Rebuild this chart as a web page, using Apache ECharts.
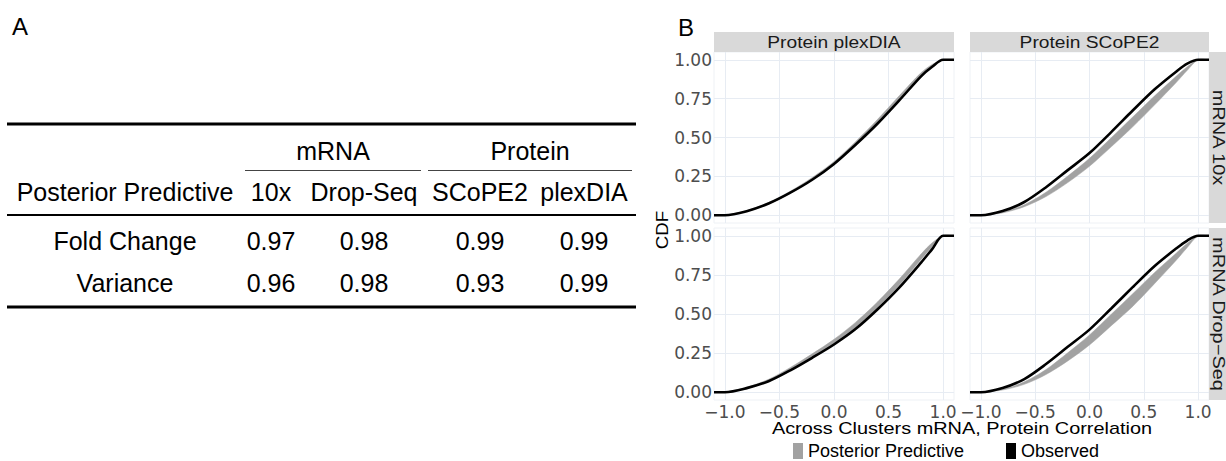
<!DOCTYPE html>
<html><head><meta charset="utf-8">
<script src="https://cdn.jsdelivr.net/npm/echarts@6/dist/echarts.min.js"></script>
<style>html,body{margin:0;padding:0;background:#fff}#c{width:1226px;height:461px}</style>
</head><body><div id="c"></div>
<script>
// ---------- Panel A : table ----------
const tableGroups = ['mRNA', 'Protein'];
const tableHeader = ['Posterior Predictive', '10x', 'Drop-Seq', 'SCoPE2', 'plexDIA'];
const tableRowNames = ['Fold Change', 'Variance'];
const foldChangeValues = ['0.97', '0.98', '0.99', '0.99'];
const varianceValues = ['0.96', '0.98', '0.93', '0.99'];

// ---------- Panel B : CDF facets ----------
const colFacets = ['Protein plexDIA', 'Protein SCoPE2'];
const rowFacets = ['mRNA 10x', 'mRNA Drop\u2212Seq'];
const legendNames = ['Posterior Predictive', 'Observed'];
const xTicks = [-1, -0.5, 0, 0.5, 1];
const yTicks = [0, 0.25, 0.5, 0.75, 1];
const corrX = [-1.1, -1.0, -0.8, -0.6, -0.4, -0.2, 0, 0.2, 0.4, 0.6, 0.8, 0.9, 1.0, 1.1];

// mRNA 10x / Protein plexDIA
const obs10xPlex    = [0, 0, 0.026, 0.075, 0.145, 0.228, 0.330, 0.455, 0.590, 0.740, 0.895, 0.955, 1, 1];
const ppLow10xPlex  = [0, 0, 0.024, 0.072, 0.142, 0.226, 0.326, 0.455, 0.595, 0.748, 0.902, 0.960, 1, 1];
const ppHigh10xPlex = [0, 0, 0.030, 0.082, 0.155, 0.242, 0.345, 0.475, 0.617, 0.770, 0.918, 0.970, 1, 1];
// mRNA 10x / Protein SCoPE2
const obs10xScope    = [0, 0, 0.027, 0.085, 0.180, 0.290, 0.400, 0.535, 0.675, 0.810, 0.925, 0.975, 1, 1];
const ppLow10xScope  = [0, 0, 0.015, 0.055, 0.120, 0.210, 0.315, 0.440, 0.570, 0.710, 0.855, 0.932, 1, 1];
const ppHigh10xScope = [0, 0, 0.020, 0.068, 0.148, 0.252, 0.366, 0.498, 0.633, 0.768, 0.895, 0.955, 1, 1];
// mRNA Drop-Seq / Protein plexDIA
const obsDropPlex    = [0, 0, 0.026, 0.070, 0.140, 0.220, 0.305, 0.405, 0.530, 0.670, 0.830, 0.915, 1, 1];
const ppLowDropPlex  = [0, 0, 0.024, 0.068, 0.138, 0.218, 0.305, 0.410, 0.540, 0.685, 0.850, 0.930, 1, 1];
const ppHighDropPlex = [0, 0, 0.032, 0.082, 0.158, 0.245, 0.338, 0.448, 0.578, 0.725, 0.885, 0.955, 1, 1];
// mRNA Drop-Seq / Protein SCoPE2
const obsDropScope    = [0, 0, 0.027, 0.084, 0.180, 0.290, 0.400, 0.535, 0.673, 0.807, 0.920, 0.970, 1, 1];
const ppLowDropScope  = [0, 0, 0.014, 0.050, 0.113, 0.200, 0.302, 0.425, 0.550, 0.695, 0.845, 0.925, 1, 1];
const ppHighDropScope = [0, 0, 0.019, 0.066, 0.145, 0.252, 0.366, 0.498, 0.631, 0.766, 0.890, 0.952, 1, 1];

// ---------- layout ----------
const panels = [
  {l: 714, t: 52,  w: 240, h: 171, obs: obs10xPlex,   lo: ppLow10xPlex,   hi: ppHigh10xPlex,   showY: true,  showX: false},
  {l: 970, t: 52,  w: 239, h: 171, obs: obs10xScope,  lo: ppLow10xScope,  hi: ppHigh10xScope,  showY: false, showX: false},
  {l: 714, t: 228, w: 240, h: 172, obs: obsDropPlex,  lo: ppLowDropPlex,  hi: ppHighDropPlex,  showY: true,  showX: true},
  {l: 970, t: 228, w: 239, h: 172, obs: obsDropScope, lo: ppLowDropScope, hi: ppHighDropScope, showY: false, showX: true}
];
const BAND = '#A2A2A2';
const GRIDC = '#E7ECF3';
const zip = (xs, ys) => xs.map((x, i) => [x, ys[i]]);
const fmtX = v => (v < 0 ? '\u2212' : '') + Math.abs(v).toFixed(1);

const grid = [], xAxis = [], yAxis = [], series = [];
panels.forEach((p, i) => {
  grid.push({left: p.l, top: p.t, width: p.w, height: p.h, show: true, borderColor: '#EEF1F5', borderWidth: 1, backgroundColor: 'transparent'});
  xAxis.push({
    gridIndex: i, type: 'value', min: -1.1, max: 1.1,
    axisLine: {show: false},
    axisTick: {show: false, customValues: xTicks},
    axisLabel: {show: p.showX, customValues: xTicks, formatter: fmtX, fontFamily: 'DejaVu Sans', fontSize: 17, color: '#4D4D4D', margin: 3},
    splitLine: {show: true, lineStyle: {color: GRIDC, width: 1}}
  });
  yAxis.push({
    gridIndex: i, type: 'value', min: -0.05, max: 1.05,
    axisLine: {show: false},
    axisTick: {show: false, customValues: yTicks},
    axisLabel: {show: p.showY, customValues: yTicks, formatter: v => v.toFixed(2), fontFamily: 'DejaVu Sans', fontSize: 17, color: '#4D4D4D', margin: 2},
    splitLine: {show: true, lineStyle: {color: GRIDC, width: 1}}
  });
  // posterior predictive band: polygon through the axis scales
  series.push({
    type: 'custom', name: legendNames[0], xAxisIndex: i, yAxisIndex: i, coordinateSystem: 'cartesian2d',
    data: corrX.map((x, k) => [x, p.lo[k], p.hi[k]]),
    encode: {x: 0, y: [1, 2]},
    itemStyle: {color: BAND}, z: 2, silent: true,
    renderItem: (params, api) => {
      if (params.dataIndex !== 0) return null;
      const up = corrX.map((x, k) => api.coord([x, p.hi[k]]));
      const dn = corrX.map((x, k) => api.coord([x, p.lo[k]])).reverse();
      return {type: 'polygon', shape: {points: up.concat(dn), smooth: 0.3}, style: {fill: BAND, stroke: BAND, lineWidth: 0.5}};
    }
  });
  series.push({
    type: 'line', name: legendNames[1], xAxisIndex: i, yAxisIndex: i,
    data: zip(corrX, p.obs), symbol: 'none', smooth: 0.3,
    lineStyle: {color: '#000', width: 2.6}, itemStyle: {color: '#000'}, z: 3
  });
});

// ---------- graphic: table, strips, titles ----------
const g = [];
const TF = 'Liberation Sans';
const txt = (text, x, y, size, opt = {}) => ({
  type: 'text', x, y, rotation: opt.rot || 0, scaleX: opt.sx || 1, scaleY: opt.sy || 1, z: 10,
  style: {text, fontFamily: TF, fontSize: size, fill: opt.fill || '#000', align: opt.align || 'center', verticalAlign: 'middle'}
});
const line = (x1, y1, x2, y2, w, c) => ({type: 'line', shape: {x1, y1, x2, y2}, style: {stroke: c || '#000', lineWidth: w}, z: 10});

g.push(txt('A', 20, 26, 24));
g.push(txt('B', 686, 27, 24));

// table
const colX = [125, 271, 364, 480, 584];
const groupX = [333, 530];
const groupSpan = [[245, 421], [428, 632]];
g.push(line(7, 124, 636, 124, 3));
tableGroups.forEach((s, i) => {
  g.push(txt(s, groupX[i], 151, 25));
  g.push(line(groupSpan[i][0], 170.5, groupSpan[i][1], 170.5, 1, '#444'));
});
tableHeader.forEach((s, i) => g.push(txt(s, colX[i], 192, 25)));
g.push(line(7, 215, 636, 215, 2));
[foldChangeValues, varianceValues].forEach((vals, r) => {
  const y = r === 0 ? 241 : 283;
  g.push(txt(tableRowNames[r], colX[0], y, 25));
  vals.forEach((v, k) => g.push(txt(v, colX[k + 1], y, 25)));
});
g.push(line(7, 307, 636, 307, 3));

// facet strips
[panels[0], panels[1]].forEach((p, i) => {
  g.push({type: 'rect', shape: {x: p.l, y: 32, width: p.w, height: 20}, style: {fill: '#D9D9D9'}, z: 5});
  g.push(txt(colFacets[i], p.l + p.w / 2, 42, 17, {sx: 1.13, fill: '#1A1A1A'}));
});
[panels[1], panels[3]].forEach((p, i) => {
  g.push({type: 'rect', shape: {x: 1209, y: p.t, width: 20, height: p.h}, style: {fill: '#D9D9D9'}, z: 5});
  g.push(txt(rowFacets[i], 1218, p.t + p.h / 2, 16, {rot: -Math.PI / 2, sx: 1.25, fill: '#1A1A1A'}));
});
// axis titles
g.push(txt('Across Clusters mRNA, Protein Correlation', 962, 428, 17, {sx: 1.17}));
g.push(txt('CDF', 662, 230, 17, {rot: Math.PI / 2, sx: 1.1}));

const chart = echarts.init(document.getElementById('c'), null, {renderer: 'svg', width: 1226, height: 461});
chart.setOption({
  animation: false,
  backgroundColor: '#fff',
  grid, xAxis, yAxis, series,
  legend: [
    {data: [legendNames[0]], left: 793, top: 442, icon: 'rect', itemWidth: 10, itemHeight: 16, padding: 0, itemGap: 0,
     textStyle: {fontFamily: TF, fontSize: 18, lineHeight: 17, color: '#000'}},
    {data: [legendNames[1]], left: 1006, top: 442, icon: 'rect', itemWidth: 10, itemHeight: 16, padding: 0, itemGap: 0,
     textStyle: {fontFamily: TF, fontSize: 18, lineHeight: 17, color: '#000'}}
  ],
  graphic: g
});
</script></body></html>
